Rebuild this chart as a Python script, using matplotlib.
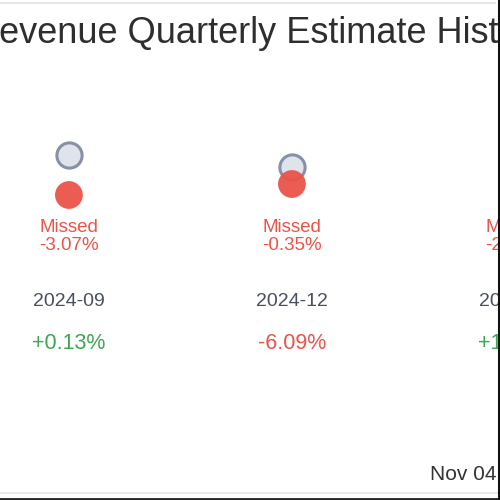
import matplotlib.pyplot as plt
from matplotlib.lines import Line2D
import matplotlib.transforms as mtransforms

# quarters visible in the crop (third one runs off the right edge)
quarters = ["2024-09", "2024-12", "2025-03"]
estimates = [1.300, 1.288, 1.300]      # consensus estimate (plot units)
actuals = [1.260, 1.271, 1.270]        # reported value (plot units)
result_labels = ["Missed", "Missed", "Missed"]
result_pcts = ["-3.07%", "-0.35%", "-2.10%"]
surprise_pcts = ["+0.13%", "-6.09%", "+1.20%"]

TITLE = "Revenue Quarterly Estimate History"
FOOTER = "Nov 04"

RED = "#ea5449"
GREEN = "#3ea552"
GRAY_TXT = "#4a4f5e"

plt.rcParams["font.family"] = ["Liberation Sans", "DejaVu Sans"]

fig = plt.figure(figsize=(5, 5), dpi=100)
ax = fig.add_axes([0, 0, 1, 1])
ax.set_xlim(-0.309, 1.933)
ax.set_ylim(0.955, 1.455)
ax.axis("off")

xs = list(range(len(quarters)))
ax.scatter(xs, estimates, s=330, facecolor="#dfe3eb", edgecolor="#8890a8",
           linewidth=2.2, zorder=2, clip_on=False)
ax.scatter(xs, actuals, s=400, color=RED, edgecolor="none", alpha=0.95,
           zorder=3, clip_on=False)

trans = mtransforms.blended_transform_factory(ax.transData, ax.transAxes)
for i, q in enumerate(quarters):
    ax.text(i, 1 - 227.5 / 500, result_labels[i], transform=trans, ha="center",
            va="center", fontsize=13.5, color=RED, clip_on=False)
    ax.text(i, 1 - 245.5 / 500, result_pcts[i], transform=trans, ha="center",
            va="center", fontsize=13.5, color=RED, clip_on=False)
    ax.text(i, 1 - 302 / 500, q, transform=trans, ha="center", va="center",
            fontsize=14, color=GRAY_TXT, clip_on=False)
    sc = GREEN if surprise_pcts[i].startswith("+") else RED
    ax.text(i, 1 - 343.5 / 500, surprise_pcts[i], transform=trans, ha="center",
            va="center", fontsize=15.5, color=sc, clip_on=False)

fig.text(261 / 500, 1 - 33 / 500, TITLE, ha="center", va="center",
         fontsize=26, color="#2e2e2e")
fig.text(497 / 500, 1 - 474.5 / 500, FOOTER, ha="right", va="center",
         fontsize=15, color="#333333")

# frame lines of the screenshot crop
fig.add_artist(Line2D([0, 0.99], [1 - 3 / 500] * 2, transform=fig.transFigure,
                      color="#e2e2e2", linewidth=1.2))
fig.add_artist(Line2D([0, 1], [1 - 493 / 500] * 2, transform=fig.transFigure,
                      color="#e6e6e6", linewidth=1.2))
fig.add_artist(Line2D([0, 1], [1 - 498.5 / 500] * 2, transform=fig.transFigure,
                      color="#222222", linewidth=2))
fig.add_artist(Line2D([498.5 / 500] * 2, [0, 1], transform=fig.transFigure,
                      color="#111111", linewidth=2.2))

fig.savefig("out.png", dpi=100, facecolor="white")
